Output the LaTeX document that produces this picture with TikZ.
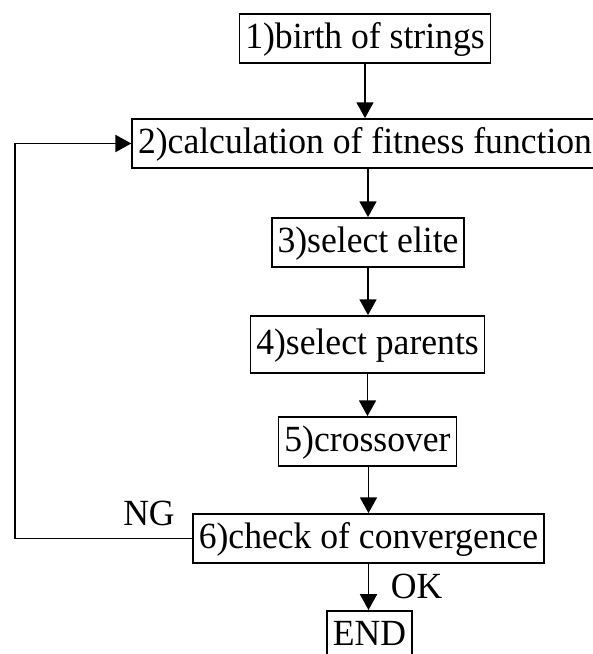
\documentclass[tikz,border=0pt]{standalone}
\usepackage{fontspec}
\setmainfont{Liberation Serif}[FakeStretch=0.965]
\usetikzlibrary{arrows.meta}

\begin{document}
\begin{tikzpicture}[x=0.03cm,y=-0.03cm,
  box/.style={draw,line width=1.5pt,inner xsep=5pt,inner ysep=0pt,
    minimum height=1.47cm,text height=22.5pt,text depth=5.7pt,
    font=\fontsize{31.5}{36}\selectfont},
  lbl/.style={inner sep=0pt,font=\fontsize{31.5}{36}\selectfont},
  flow/.style={line width=1.5pt,-{Triangle[length=13.5pt,width=14.5pt]}}]
\useasboundingbox (0,0) rectangle (592,654);
\node[box] (s1) at (365,38.5) {1)birth of strings};
\node[box] (s2) at (365,143.5) {2)calculation of fitness function};
\node[box] (s3) at (368,242.5) {3)select elite};
\node[box,minimum height=1.71cm] (s4) at (367.5,344.5) {4)select parents};
\node[box] (s5) at (367.5,441.5) {5)crossover};
\node[box] (s6) at (368.5,538.5) {6)check of convergence};
\node[box,anchor=north] (fin) at (369.5,610) {END};
\node[lbl] (ng) at (149,513) {NG};
\node[lbl] (ok) at (416.5,586.5) {OK};
\coordinate (lb) at (15,538.5);
\draw[flow] (s1) -- (s1 |- s2.north);
\draw[flow] (s2.south -| s3) -- (s3);
\draw[flow] (s3) -- (s3 |- s4.north);
\draw[flow] (s4) -- (s4 |- s5.north);
\draw[flow] (s5.south -| s6) -- (s6);
\draw[flow] (s6) -- (s6 |- fin.north);
% NG: back to step 2
\draw[flow] (s6.west) -- (lb) |- (s2.west);
\end{tikzpicture}
\end{document}
